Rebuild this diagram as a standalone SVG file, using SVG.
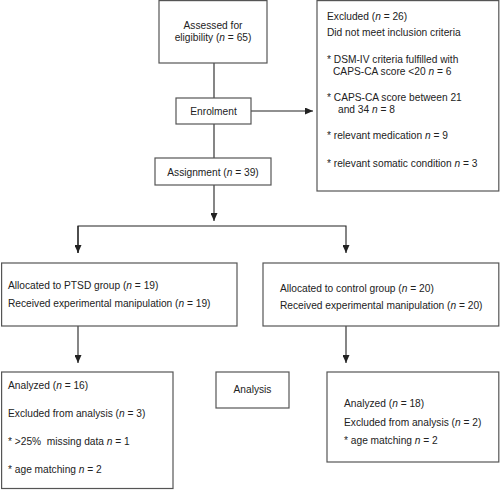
<svg xmlns="http://www.w3.org/2000/svg" width="500" height="490" viewBox="0 0 500 490">
<defs>
<style>
.box{fill:#fff;stroke:#555;stroke-width:1.2}
.t{font-family:"Liberation Sans",Arial,Helvetica,sans-serif;font-size:10.2px;fill:#222}
.c{text-anchor:middle}
.i{font-style:italic}
.ln{fill:none;stroke:#222;stroke-width:1.1}
</style>
<marker id="ah" markerUnits="userSpaceOnUse" markerWidth="8" markerHeight="7" refX="8" refY="3.5" orient="auto">
<path d="M0,0 L8,3.5 L0,7 z" fill="#222"/>
</marker>
</defs>
<rect width="500" height="490" fill="#fff"/>
<g id="connectors">
<line class="ln" x1="214" y1="63" x2="214" y2="98"/>
<line class="ln" x1="214" y1="124" x2="214" y2="158"/>
<line class="ln" x1="251" y1="111" x2="313" y2="111" marker-end="url(#ah)"/>
<line class="ln" x1="214" y1="185" x2="214" y2="221" marker-end="url(#ah)"/>
<polyline class="ln" points="78,253 78,226 346,226 346,253" marker-end="url(#ah)"/>
<line class="ln" x1="78" y1="226" x2="78" y2="253" marker-end="url(#ah)"/>
<line class="ln" x1="78" y1="326" x2="78" y2="363" marker-end="url(#ah)"/>
<line class="ln" x1="346" y1="326" x2="346" y2="363" marker-end="url(#ah)"/>
</g>
<g id="assessed">
<rect class="box" x="159" y="0.6" width="108" height="62.4"/>
<text class="t c" x="213" y="29">Assessed for</text>
<text class="t c" x="213" y="41">eligibility (<tspan class="i">n</tspan> = 65)</text>
</g>
<g id="enrolment">
<rect class="box" x="176" y="98" width="75" height="26"/>
<text class="t c" x="213.5" y="115">Enrolment</text>
</g>
<g id="assignment">
<rect class="box" x="155" y="158" width="116" height="27"/>
<text class="t c" x="213" y="175.5">Assignment (<tspan class="i">n</tspan> = 39)</text>
</g>
<g id="excluded">
<rect class="box" x="317" y="0.6" width="181.8" height="190.4"/>
<text class="t" x="327" y="20">Excluded (<tspan class="i">n</tspan> = 26)</text>
<text class="t" x="327" y="36">Did not meet inclusion criteria</text>
<text class="t" x="327" y="63">* DSM-IV criteria fulfilled with</text>
<text class="t" x="333" y="75">CAPS-CA score &lt;20 <tspan class="i">n</tspan> = 6</text>
<text class="t" x="327" y="101">* CAPS-CA score between 21</text>
<text class="t" x="338" y="113">and 34 <tspan class="i">n</tspan> = 8</text>
<text class="t" x="327" y="139">* relevant medication <tspan class="i">n</tspan> = 9</text>
<text class="t" x="327" y="167">* relevant somatic condition <tspan class="i">n</tspan> = 3</text>
</g>
<g id="ptsd">
<rect class="box" x="1.6" y="263" width="235.4" height="63"/>
<text class="t" x="8" y="289">Allocated to PTSD group (<tspan class="i">n</tspan> = 19)</text>
<text class="t" x="8" y="307">Received experimental manipulation (<tspan class="i">n</tspan> = 19)</text>
</g>
<g id="control">
<rect class="box" x="263" y="263" width="235.8" height="63"/>
<text class="t" x="280" y="292">Allocated to control group (<tspan class="i">n</tspan> = 20)</text>
<text class="t" x="280" y="309">Received experimental manipulation (<tspan class="i">n</tspan> = 20)</text>
</g>
<g id="analyzed-ptsd">
<rect class="box" x="1.6" y="372" width="171.4" height="116.5"/>
<text class="t" x="8" y="389">Analyzed (<tspan class="i">n</tspan> = 16)</text>
<text class="t" x="8" y="417">Excluded from analysis (<tspan class="i">n</tspan> = 3)</text>
<text class="t" x="8" y="445">* &gt;25%&#160; missing data <tspan class="i">n</tspan> = 1</text>
<text class="t" x="8" y="473">* age matching <tspan class="i">n</tspan> = 2</text>
</g>
<g id="analysis">
<rect class="box" x="216" y="372" width="73" height="36"/>
<text class="t c" x="252.5" y="393">Analysis</text>
</g>
<g id="analyzed-control">
<rect class="box" x="327" y="372" width="171.8" height="90"/>
<text class="t" x="344" y="407">Analyzed (<tspan class="i">n</tspan> = 18)</text>
<text class="t" x="344" y="425.5">Excluded from analysis (<tspan class="i">n</tspan> = 2)</text>
<text class="t" x="344" y="443.5">* age matching <tspan class="i">n</tspan> = 2</text>
</g>
</svg>
